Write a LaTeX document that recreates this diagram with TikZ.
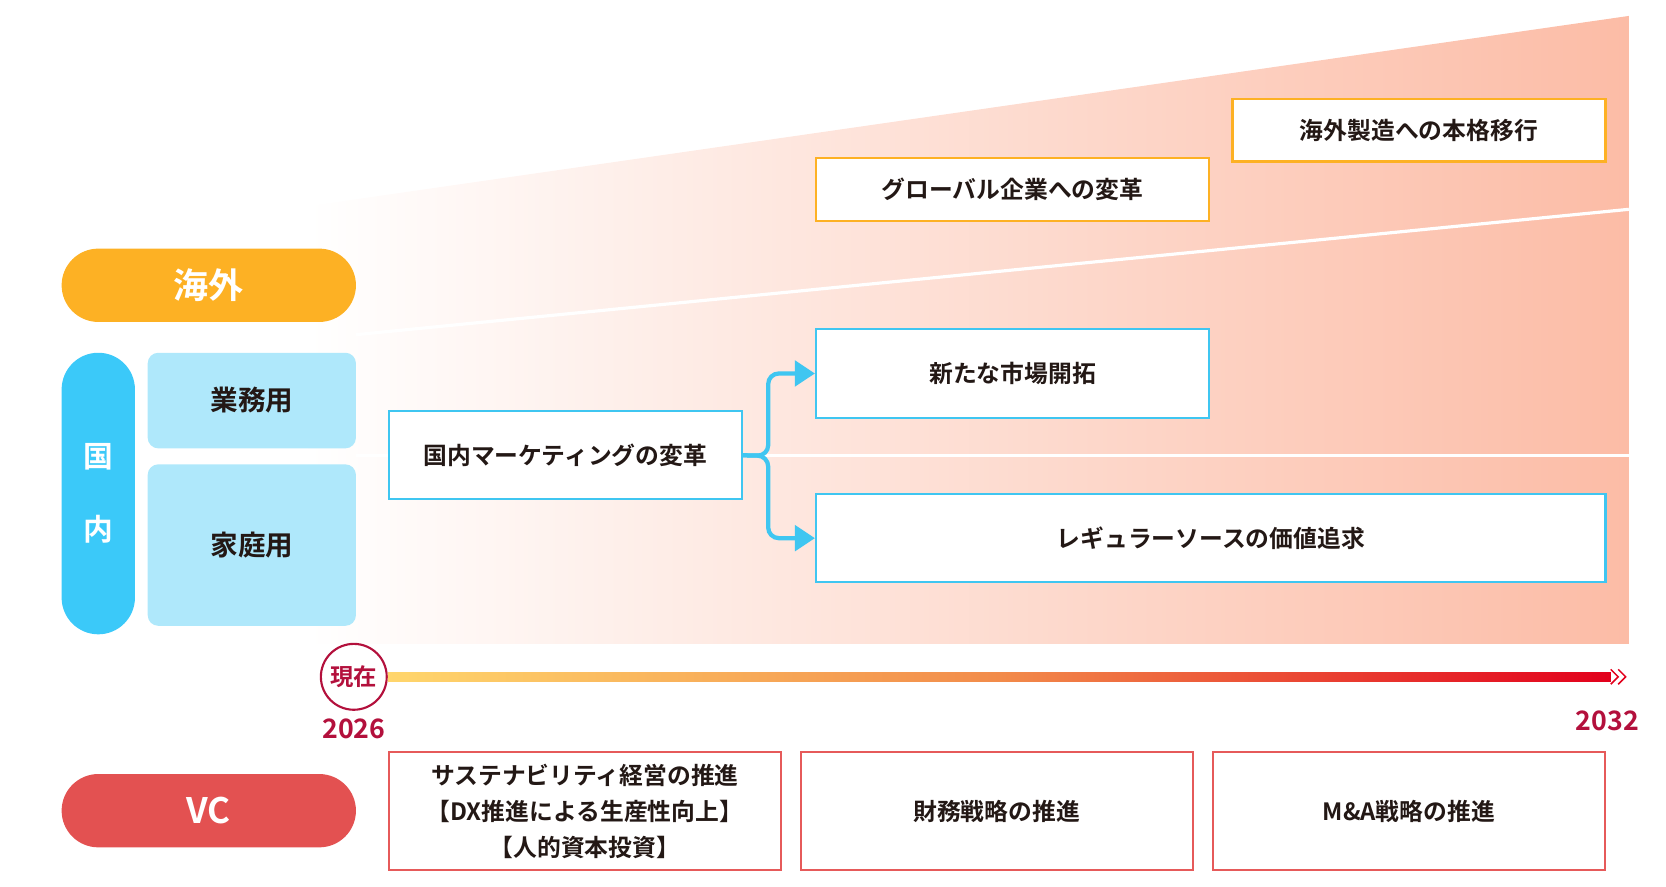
\documentclass[tikz,border=0pt]{standalone}
\usepackage{fontspec}
\setmainfont{Noto Sans CJK JP}[BoldFont=* Bold]
\usetikzlibrary{arrows.meta}

\definecolor{kaigaiorange}{HTML}{FDB124}
\definecolor{kokunaicyan}{HTML}{3BC9F9}
\definecolor{segcyan}{HTML}{AFE8FB}
\definecolor{linecyan}{HTML}{3FC6F1}
\definecolor{vcred}{HTML}{E35151}
\definecolor{vcline}{HTML}{E65A5A}
\definecolor{salmon}{HTML}{FCBCA6}
\definecolor{nowred}{HTML}{B3103C}
\definecolor{inkdark}{HTML}{231815}
\definecolor{tlyellow}{HTML}{FFD66C}
\definecolor{tlorange}{HTML}{F28B4A}
\definecolor{tlred}{HTML}{E2001C}

\begin{document}
\begin{tikzpicture}[x=0.5pt, y=-0.5pt,
    pill/.style={rounded corners=17.25pt, inner sep=0pt, minimum width=138.5pt, minimum height=34.5pt,
        text=white, font=\bfseries\fontsize{16.5}{20}\selectfont},
    segbox/.style={fill=segcyan, rounded corners=5pt, inner sep=0pt, minimum width=98pt,
        text=inkdark, font=\bfseries\fontsize{13}{16}\selectfont},
    planbox/.style={draw, fill=white, line width=1pt, inner sep=0pt, minimum height=41.5pt,
        text=inkdark, font=\bfseries\fontsize{11.2}{17}\selectfont},
    vcbox/.style={planbox, draw=vcline, minimum width=184.5pt, minimum height=55.5pt, align=center},
    forkline/.style={linecyan, line width=2pt, rounded corners=5pt, -{Triangle[length=9.5pt, width=12pt]}},
    yearlabel/.style={text=nowred, font=\bfseries\fontsize{12.6}{15}\selectfont}]

    \useasboundingbox (0,0) rectangle (1568,834);

    \shade[left color=white, right color=salmon] (290,194) -- (1533,15) -- (1533,606) -- (290,606) -- cycle;
    \draw[white, line width=1.5pt] (335,315) -- (1533,197);
    \draw[white, line width=1.5pt] (335,429) -- (1533,429);

    \node[pill, fill=kaigaiorange] (kaigai) at (196.5,268.5) {海外};
    \node[pill, fill=kokunaicyan, minimum width=34.5pt, minimum height=132.5pt, align=center,
        font=\bfseries\fontsize{14}{34.5}\selectfont] (kokunai) at (92.5,464.5) {国\\内};
    \node[segbox, minimum height=45pt] (gyomu) at (237,377) {業務用};
    \node[segbox, minimum height=76pt] (katei) at (237,513) {家庭用};

    \node[planbox, draw=linecyan, minimum width=166pt] (mkt) at (532,428.5) {国内マーケティングの変革};
    \node[planbox, draw=linecyan, minimum width=185pt] (shinki) at (953,351.5) {新たな市場開拓};
    \node[planbox, draw=linecyan, minimum width=371.5pt] (regular) at (1139.5,506.5) {レギュラーソースの価値追求};
    \node[planbox, draw=kaigaiorange, minimum width=185pt, minimum height=29.5pt] (global) at (953,178.5) {グローバル企業への変革};
    \node[planbox, draw=kaigaiorange, minimum width=175.5pt, minimum height=29.5pt] (seizo) at (1335.5,122.5) {海外製造への本格移行};

    \coordinate (fork) at (723,429);
    \draw[forkline] (mkt.east) -- (fork) |- (shinki.west);
    \draw[forkline] (mkt.east) -- (fork) |- (regular.west);

    % timeline
    \node[circle, draw=nowred, line width=1pt, fill=white, minimum size=31pt, inner sep=0pt,
        text=nowred, font=\bfseries\fontsize{11}{13}\selectfont] (now) at (333,637) {現在};
    \coordinate (tend) at (1516,637);
    \shade[left color=tlyellow, right color=tlred, middle color=tlorange]
        ([yshift=2.25pt]now.east) rectangle ([yshift=-2.25pt]tend);
    \draw[tlred, line width=0.7pt] ([yshift=3.5pt]tend) -- ++(3.5pt,-3.5pt) -- ++(-3.5pt,-3.5pt);
    \draw[tlred, line width=0.7pt] ([xshift=3.5pt, yshift=3.5pt]tend) -- ++(3.5pt,-3.5pt) -- ++(-3.5pt,-3.5pt);
    \node[yearlabel] (start) at (333,686) {2026};
    \node[yearlabel] (goal) at (1513,678) {2032};

    \node[pill, fill=vcred] (vc) at (196.5,763) {VC};
    \node[vcbox] (sustain) at (550.5,763.5) {サステナビリティ経営の推進\\【DX推進による生産性向上】\\【人的資本投資】};
    \node[vcbox] (zaimu) at (938,763.5) {財務戦略の推進};
    \node[vcbox] (manda) at (1326,763.5) {M\&A戦略の推進};

\end{tikzpicture}
\end{document}
